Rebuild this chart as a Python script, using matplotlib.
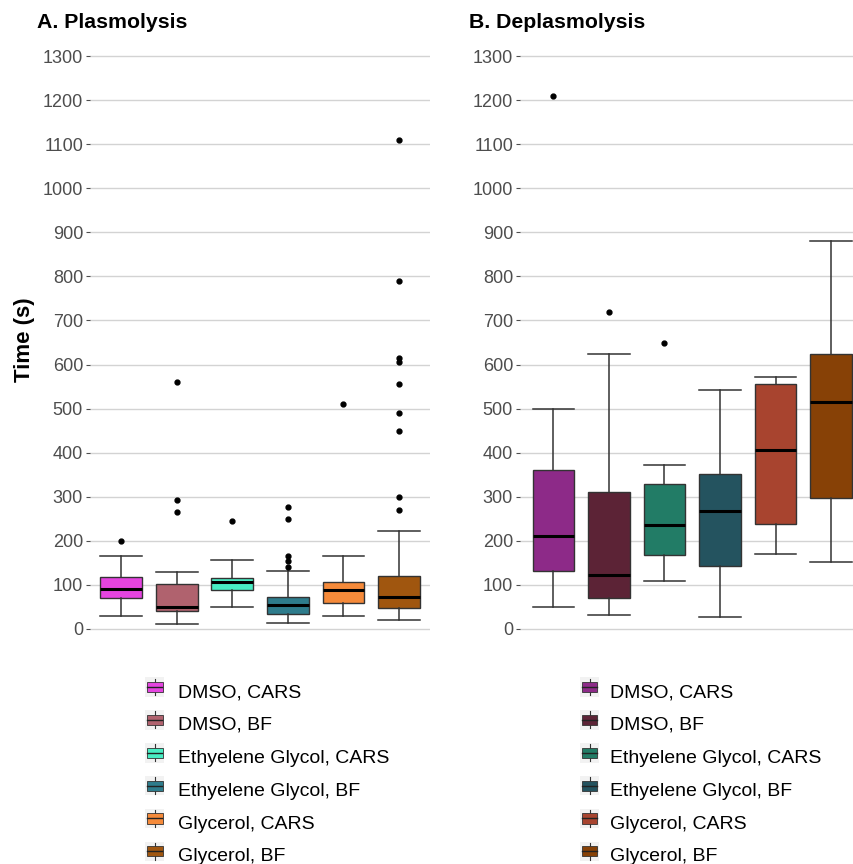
import matplotlib
matplotlib.use("Agg")
import matplotlib.pyplot as plt
from matplotlib.patches import Patch, Rectangle
from matplotlib.lines import Line2D
from matplotlib.legend_handler import HandlerBase

plt.rcParams['font.family'] = ['Liberation Sans', 'DejaVu Sans']

groups = ['DMSO, CARS', 'DMSO, BF', 'Ethyelene Glycol, CARS',
          'Ethyelene Glycol, BF', 'Glycerol, CARS', 'Glycerol, BF']

# A. Plasmolysis
plas_lo = [29, 11, 49, 14, 29, 20]
plas_q1 = [70, 40, 88, 35, 58, 47]
plas_med = [90, 49, 107, 54, 88, 72]
plas_q3 = [119, 102, 116, 73, 107, 121]
plas_hi = [165, 129, 157, 132, 166, 222]
plas_out = [[200], [560, 293, 265], [245],
            [276, 249, 166, 154, 141], [510],
            [1110, 790, 615, 605, 555, 490, 450, 300, 270]]
plas_colors = ['#E544E0', '#B0626E', '#48EEC4', '#2E7C8C', '#F58A3A', '#A0560F']

# B. Deplasmolysis
depl_lo = [50, 32, 110, 27, 171, 153]
depl_q1 = [131, 70, 167, 144, 238, 297]
depl_med = [210, 123, 235, 268, 406, 514]
depl_q3 = [361, 311, 328, 351, 555, 625]
depl_hi = [500, 625, 372, 543, 571, 880]
depl_out = [[1210], [720], [650], [], [], []]
depl_colors = ['#8D2A88', '#5C2336', '#227C66', '#24535F', '#A8442F', '#874106']

yticks = list(range(0, 1301, 100))


class BoxKey(HandlerBase):
    def create_artists(self, legend, orig_handle, xd, yd, width, height, fontsize, trans):
        cx = xd + width / 2
        bw = width * 0.8
        arts = [Rectangle((xd, yd - 1), width, height + 2, facecolor='#F2F2F2',
                          edgecolor='none', transform=trans),
                Line2D([cx, cx], [yd, yd + height], color='#333333', lw=0.8,
                       transform=trans),
                Rectangle((cx - bw / 2, yd + height * 0.2), bw, height * 0.6,
                          facecolor=orig_handle.get_facecolor(), edgecolor='#333333',
                          lw=0.6, transform=trans),
                Line2D([cx - bw / 2, cx + bw / 2], [yd + height / 2] * 2, color='#222222',
                       lw=1.0, transform=trans)]
        return arts


def draw_panel(ax, lo, q1, med, q3, hi, out, colors, xlim):
    stats = []
    for i in range(len(groups)):
        stats.append(dict(whislo=lo[i], q1=q1[i], med=med[i], q3=q3[i],
                          whishi=hi[i], fliers=out[i], label=groups[i]))
    bp = ax.bxp(stats, positions=range(1, 7), widths=0.75, patch_artist=True,
                showfliers=True,
                boxprops=dict(edgecolor='#333333', linewidth=1.0),
                medianprops=dict(color='black', linewidth=2.2),
                whiskerprops=dict(color='#333333', linewidth=1.1),
                capprops=dict(color='#333333', linewidth=1.1),
                flierprops=dict(marker='o', markersize=3.5, markerfacecolor='black',
                                markeredgecolor='black'))
    for patch, c in zip(bp['boxes'], colors):
        patch.set_facecolor(c)
    # ggplot-style caps as wide as the boxes
    for j, cap in enumerate(bp['caps']):
        p = j // 2 + 1
        cap.set_xdata([p - 0.375, p + 0.375])
    ax.set_xlim(*xlim)
    ax.set_ylim(-59, 1359)
    ax.set_yticks(yticks)
    ax.set_xticks([])
    ax.yaxis.grid(True, color='#D3D3D3', linewidth=1.0)
    ax.set_axisbelow(True)
    for s in ax.spines.values():
        s.set_visible(False)
    ax.tick_params(axis='y', labelsize=13, labelcolor='#4D4D4D', color='#4D4D4D',
                   length=3, width=0.8, pad=2)
    handles = [Patch(facecolor=c) for c in colors]
    return handles


W, H = 854, 864
fig = plt.figure(figsize=(W / 100, H / 100), dpi=100)
ax1 = fig.add_axes([90 / W, 1 - 655 / H, 340 / W, 625 / H])
ax2 = fig.add_axes([520 / W, 1 - 655 / H, 334 / W, 625 / H])

h1 = draw_panel(ax1, plas_lo, plas_q1, plas_med, plas_q3, plas_hi, plas_out,
                plas_colors, (0.44, 6.56))
h2 = draw_panel(ax2, depl_lo, depl_q1, depl_med, depl_q3, depl_hi, depl_out,
                depl_colors, (0.40, 6.41))

fig.text(37 / W, 1 - 22 / H, 'A. Plasmolysis', fontsize=15.3, fontweight='bold', va='center')
fig.text(469 / W, 1 - 22 / H, 'B. Deplasmolysis', fontsize=15.3, fontweight='bold', va='center')
fig.text(25 / W, 1 - 340 / H, 'Time (s)', fontsize=16, fontweight='bold', rotation=90,
         va='center', ha='center')

for handles, x0, pad in ((h1, 145, 0.72), (h2, 580, 0.56)):
    fig.legend(handles, groups, loc='upper left', bbox_to_anchor=(x0 / W, 1 - 682 / H),
               frameon=False, fontsize=14, handler_map={Patch: BoxKey()},
               handlelength=1.0, handleheight=0.95, handletextpad=pad,
               labelspacing=0.71, borderpad=0, borderaxespad=0)

fig.savefig('out.png', dpi=100)
